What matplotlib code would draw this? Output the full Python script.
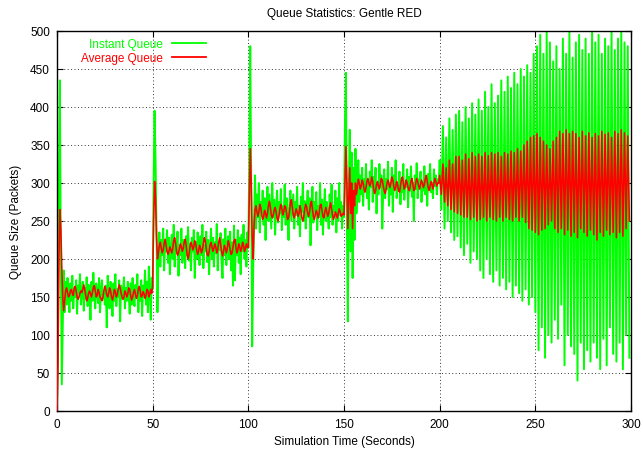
import numpy as np
import matplotlib
matplotlib.use("Agg")
import matplotlib.pyplot as plt

plt.rcParams['font.family'] = ['Liberation Sans', 'DejaVu Sans']

# ---------------- data ----------------
# Instantaneous queue, sampled every 0.5 s in 50-second segments
inst_0_50 = [0, 80, 300, 435, 200, 35, 110, 185, 130, 170,
             140, 175, 150, 130, 168, 145, 178, 135, 160, 150,
             172, 128, 165, 155, 180, 140, 158, 170, 132, 162,
             148, 176, 138, 166, 152, 120, 170, 145, 182, 150,
             135, 168, 158, 142, 175, 130, 160, 172, 148, 156,
             140, 165, 110, 178, 150, 135, 170, 155, 125, 168,
             145, 180, 138, 160, 150, 172, 118, 165, 148, 158,
             176, 135, 162, 145, 170, 152, 128, 168, 140, 175,
             150, 138, 166, 155, 180, 130, 160, 145, 172, 125,
             165, 150, 185, 140, 170, 130, 190, 160, 120, 175]
inst_50_100 = [160, 300, 395, 330, 240, 130, 200, 235, 190, 225,
               205, 240, 185, 220, 210, 238, 195, 228, 180, 215,
               232, 200, 245, 190, 222, 208, 236, 178, 218, 205,
               240, 195, 225, 212, 188, 230, 205, 242, 198, 220,
               185, 228, 210, 238, 175, 222, 200, 235, 215, 192,
               230, 205, 245, 188, 218, 210, 236, 196, 225, 180,
               215, 240, 200, 228, 190, 222, 208, 246, 185, 220,
               212, 234, 198, 175, 226, 205, 240, 192, 218, 230,
               200, 236, 185, 222, 165, 244, 172, 225, 205, 238,
               195, 228, 180, 232, 210, 245, 200, 225, 190, 235]
inst_100_150 = [215, 330, 480, 300, 85, 180, 250, 310, 240, 285,
                255, 300, 235, 275, 260, 290, 245, 280, 225, 270,
                295, 250, 285, 262, 240, 300, 255, 278, 232, 268,
                290, 248, 275, 260, 292, 238, 270, 255, 298, 245,
                280, 262, 225, 272, 290, 250, 268, 285, 240, 275,
                258, 295, 245, 270, 230, 282, 262, 300, 250, 276,
                240, 268, 290, 255, 280, 218, 265, 295, 248, 275,
                262, 288, 238, 270, 255, 300, 245, 278, 232, 268,
                292, 250, 275, 260, 240, 285, 255, 298, 245, 270,
                262, 290, 235, 280, 250, 300, 258, 275, 240, 270]
inst_150_200 = [255, 380, 445, 250, 118, 290, 370, 210, 340, 175,
                320, 225, 345, 260, 300, 330, 275, 310, 285, 320,
                270, 305, 290, 325, 280, 300, 265, 315, 295, 330,
                275, 308, 290, 320, 260, 300, 285, 325, 295, 310,
                240, 290, 318, 280, 305, 292, 328, 270, 300, 285,
                320, 262, 310, 295, 330, 280, 300, 290, 315, 272,
                305, 288, 325, 278, 300, 295, 318, 268, 308, 290,
                322, 282, 300, 250, 310, 292, 326, 280, 305, 295,
                315, 275, 300, 290, 322, 285, 308, 270, 312, 295,
                325, 288, 300, 280, 318, 296, 310, 285, 305, 300]
# 200-300 s: oscillation, alternating peak / trough values
inst_200_300 = [330, 265, 375, 240, 360, 250, 385, 235, 370, 225, 390, 230,
                395, 215, 380, 205, 400, 220, 385, 195, 405, 210, 390, 200,
                410, 185, 395, 175, 420, 200, 400, 180, 430, 170, 405, 185,
                415, 165, 435, 175, 420, 160, 440, 170, 425, 150, 445, 165,
                430, 155, 450, 145, 440, 160, 455, 140, 445, 150, 470, 130,
                480, 80, 495, 110, 470, 70, 500, 100, 485, 90, 460, 120,
                480, 95, 450, 140, 490, 60, 470, 100, 500, 85, 465, 75,
                485, 40, 495, 90, 475, 55, 490, 80, 470, 65, 500, 90,
                485, 70, 495, 55, 470, 95, 490, 60, 480, 110, 500, 75,
                475, 65, 490, 90, 500, 55, 485, 100, 480, 70]

# Average queue, same sampling
avg_0_50 = [0, 60, 200, 265, 240, 190, 150, 132, 145, 158,
            162, 156, 150, 152, 158, 160, 155, 152, 162, 164,
            158, 150, 147, 150, 155, 158, 156, 160, 166, 160,
            152, 145, 148, 155, 158, 154, 150, 156, 162, 165,
            158, 150, 152, 160, 156, 150, 148, 145, 150, 158,
            164, 160, 153, 150, 155, 162, 158, 150, 146, 152,
            160, 157, 150, 153, 160, 166, 162, 155, 150, 147,
            150, 158, 155, 150, 154, 162, 160, 152, 146, 150,
            156, 160, 154, 148, 152, 160, 164, 158, 150, 152,
            157, 154, 148, 152, 160, 158, 150, 154, 160, 155]
avg_50_100 = [165, 250, 302, 280, 230, 200, 208, 218, 222, 214,
              208, 212, 220, 226, 218, 210, 206, 210, 216, 212,
              208, 214, 224, 228, 220, 210, 205, 208, 214, 220,
              216, 210, 214, 222, 226, 218, 206, 200, 206, 216,
              222, 218, 212, 216, 224, 220, 212, 206, 210, 218,
              214, 208, 212, 220, 228, 224, 214, 206, 204, 210,
              218, 222, 216, 210, 214, 220, 216, 208, 212, 222,
              228, 220, 210, 204, 210, 218, 214, 208, 214, 224,
              220, 212, 206, 208, 216, 224, 226, 216, 208, 212,
              220, 216, 210, 214, 222, 218, 210, 214, 220, 215]
avg_100_150 = [215, 280, 345, 300, 230, 200, 245, 265, 270, 262,
               256, 262, 272, 268, 258, 252, 256, 264, 260, 254,
               260, 270, 276, 268, 258, 254, 258, 264, 268, 262,
               254, 250, 256, 266, 272, 266, 258, 262, 270, 268,
               260, 252, 254, 262, 274, 278, 268, 258, 254, 260,
               266, 262, 256, 260, 270, 264, 254, 250, 256, 266,
               272, 268, 260, 256, 262, 272, 276, 266, 256, 252,
               258, 264, 260, 254, 260, 270, 272, 264, 256, 254,
               262, 268, 262, 256, 260, 268, 274, 266, 258, 252,
               256, 262, 258, 254, 260, 266, 262, 256, 258, 260]
avg_150_200 = [258, 300, 348, 300, 240, 280, 320, 260, 300, 240,
               290, 270, 300, 285, 295, 305, 300, 292, 296, 304,
               300, 292, 288, 294, 302, 306, 300, 296, 300, 308,
               302, 292, 286, 290, 298, 302, 296, 292, 298, 306,
               304, 296, 290, 286, 292, 300, 304, 298, 294, 300,
               308, 304, 296, 290, 294, 302, 298, 290, 288, 296,
               304, 308, 300, 292, 296, 304, 300, 294, 290, 294,
               302, 306, 298, 290, 292, 300, 306, 302, 296, 292,
               298, 304, 300, 294, 298, 306, 310, 302, 294, 290,
               296, 302, 298, 292, 300, 306, 302, 296, 300, 300]
avg_200_300 = [310, 285, 325, 275, 320, 270, 330, 265, 325, 262, 335, 260,
               335, 258, 330, 255, 338, 255, 332, 252, 340, 255, 335, 250,
               338, 252, 335, 255, 340, 250, 336, 255, 340, 252, 338, 250,
               340, 255, 335, 250, 340, 255, 338, 252, 342, 250, 340, 255,
               345, 250, 342, 255, 350, 248, 355, 240, 360, 238, 362, 235,
               365, 232, 360, 238, 355, 240, 350, 245, 345, 250, 355, 240,
               360, 235, 368, 240, 365, 232, 370, 238, 365, 230, 368, 235,
               365, 228, 360, 240, 368, 235, 362, 230, 366, 238, 360, 232,
               365, 225, 362, 235, 368, 230, 364, 238, 366, 232, 360, 235,
               368, 228, 365, 235, 370, 230, 366, 240, 362, 250]

x_ticks = [0, 50, 100, 150, 200, 250, 300]
y_ticks = [0, 50, 100, 150, 200, 250, 300, 350, 400, 450, 500]

# ---------------- assemble ----------------
seg_step = 0.5
early_inst = inst_0_50 + inst_50_100 + inst_100_150 + inst_150_200
early_avg = avg_0_50 + avg_50_100 + avg_100_150 + avg_150_200
t_early = np.arange(len(early_inst)) * seg_step
osc_step = 100.0 / len(inst_200_300)
t_osc = 200 + np.arange(len(inst_200_300)) * osc_step

t_all = np.concatenate([t_early, t_osc])
inst_all = np.array(early_inst + inst_200_300, dtype=float)
avg_all = np.array(early_avg + avg_200_300, dtype=float)

# ---------------- plot ----------------
fig = plt.figure(figsize=(6.43, 4.56), dpi=100)
ax = fig.add_axes([57 / 643, 44 / 456, (631 - 57) / 643, (412 - 32) / 456])

green = '#00ff00'
red = '#ff0000'
ax.plot(t_all, inst_all, color=green, lw=1.4, label='Instant Queue', zorder=2)
ax.plot(t_all, avg_all, color=red, lw=1.15, label='Average Queue', zorder=3)

ax.set_xlim(0, 300)
ax.set_ylim(0, 500)
ax.set_xticks(x_ticks)
ax.set_yticks(y_ticks)
fs = 8.5
ax.tick_params(direction='in', length=4, width=0.8, top=True, right=True,
               labelsize=fs, pad=5, colors='black')
ax.grid(True, color='black', linestyle=(0, (1, 2.5)), linewidth=0.7, alpha=0.8)
for s in ax.spines.values():
    s.set_linewidth(1.0)
    s.set_color('black')

ax.set_title('Queue Statistics: Gentle RED', fontsize=fs, pad=11)
ax.set_xlabel('Simulation Time (Seconds)', fontsize=fs, labelpad=4)
ax.set_ylabel('Queue Size (Packets)', fontsize=fs, labelpad=6)

leg = ax.legend(loc='upper left', bbox_to_anchor=(0.029, 0.999), frameon=False,
                markerfirst=False, fontsize=fs, handlelength=2.9,
                handletextpad=0.8, labelspacing=0.1, borderaxespad=0.2)
for line in leg.get_lines():
    line.set_linewidth(1.3)
for txt, col in zip(leg.get_texts(), [green, red]):
    txt.set_color(col)
    txt.set_ha('right')

fig.savefig('out.png', dpi=100)
